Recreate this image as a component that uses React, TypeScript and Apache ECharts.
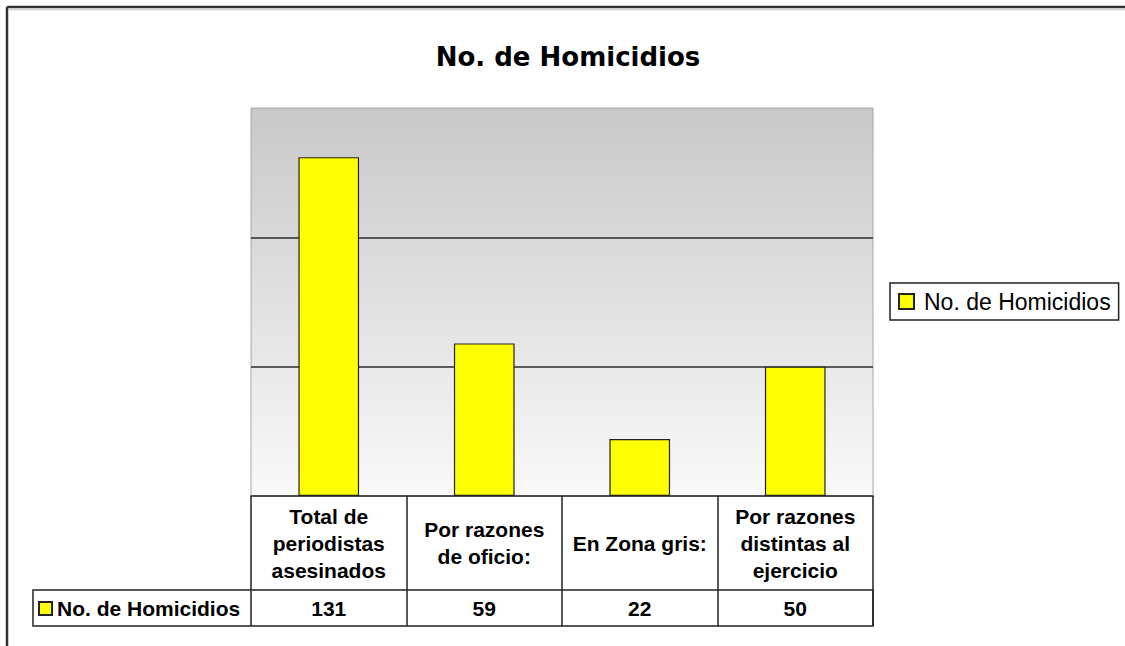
import React, { useEffect, useRef } from "react";
import * as echarts from "echarts";

const seriesName = "No. de Homicidios";
const categories = [
  "Total de\nperiodistas\nasesinados",
  "Por razones\nde oficio:",
  "En Zona gris:",
  "Por razones\ndistintas al\nejercicio",
];
const values = [131, 59, 22, 50];
const yMin = 0;
const yMax = 150;
const yInterval = 50;

export default function App() {
  const ref = useRef<HTMLDivElement>(null);
  useEffect(() => {
    document.body.style.margin = "0";
    const chart = echarts.init(ref.current!, null, { renderer: "svg" });
    const gridLeft = 251;
    const gridTop = 108;
    const gridW = 622;
    const gridH = 388;
    const gridBottom = gridTop + gridH;
    chart.setOption({
      animation: false,
      backgroundColor: "#ffffff",
      title: {
        text: "No. de Homicidios",
        left: 563,
        top: 39,
        textAlign: "center",
        textStyle: {
          fontFamily: "DejaVu Sans",
          fontWeight: "bold",
          fontSize: 26,
          color: "#000",
        },
      },
      legend: [
        {
          data: [seriesName],
          left: 36,
          top: 596,
          padding: 2,
          icon: "rect",
          itemWidth: 13,
          itemHeight: 13,
          selectedMode: false,
          textStyle: {
            fontFamily: "Liberation Sans",
            fontWeight: "bold",
            fontSize: 21,
            color: "#000",
          },
        },
        {
          data: [seriesName],
          left: 890,
          top: 283,
          padding: [7, 8, 7, 8],
          borderColor: "#222",
          borderWidth: 1.5,
          icon: "rect",
          itemWidth: 15,
          itemHeight: 15,
          selectedMode: false,
          textStyle: {
            fontFamily: "Liberation Sans",
            fontSize: 23,
            color: "#000",
            padding: [0, 0, 0, 5],
          },
        },
      ],
      grid: {
        left: gridLeft,
        top: gridTop,
        width: gridW,
        height: gridH,
        show: true,
        borderColor: "#a8a8a8",
        borderWidth: 1,
        backgroundColor: new echarts.graphic.LinearGradient(0, 0, 0, 1, [
          { offset: 0, color: "#c8c8c8" },
          { offset: 1, color: "#f9f9f9" },
        ]),
      },
      xAxis: [
        {
          type: "category",
          data: categories,
          position: "bottom",
          axisLine: { lineStyle: { color: "#222", width: 1.5 } },
          axisTick: { show: true, length: 130, lineStyle: { color: "#222", width: 1.5 } },
          axisLabel: {
            interval: 0,
            margin: 47,
            verticalAlign: "middle",
            fontFamily: "Liberation Sans",
            fontWeight: "bold",
            fontSize: 21,
            lineHeight: 27,
            color: "#000",
          },
        },
        {
          type: "category",
          data: categories,
          position: "bottom",
          offset: 94,
          axisLine: { show: false },
          axisTick: { show: false },
          axisLabel: {
            interval: 0,
            margin: 18,
            verticalAlign: "middle",
            formatter: (_v: string, idx: number) => String(values[idx]),
            fontFamily: "Liberation Sans",
            fontWeight: "bold",
            fontSize: 21,
            color: "#000",
          },
        },
      ],
      yAxis: {
        type: "value",
        min: yMin,
        max: yMax,
        interval: yInterval,
        axisLabel: { show: false },
        axisLine: { show: false },
        axisTick: { show: false },
        splitLine: {
          show: true,
          showMinLine: false,
          showMaxLine: false,
          lineStyle: { color: "#2a2a2a", width: 1.5 },
        },
      },
      series: [
        {
          name: seriesName,
          type: "bar",
          xAxisIndex: 0,
          data: values,
          barWidth: "39%",
          itemStyle: { color: "#ffff00", borderColor: "#222", borderWidth: 1.2 },
        },
      ],
      graphic: [
        {
          type: "rect",
          shape: { x: 33, y: gridBottom + 94, width: gridLeft + gridW - 33, height: 36 },
          style: { fill: "none", stroke: "#222", lineWidth: 1.5 },
          z: 10,
        },
        {
          type: "line",
          shape: { x1: 7, y1: 7, x2: 1125, y2: 7 },
          style: { stroke: "#333", lineWidth: 2.5 },
        },
        {
          type: "line",
          shape: { x1: 7, y1: 7, x2: 7, y2: 646 },
          style: { stroke: "#333", lineWidth: 2.5 },
        },
        {
          type: "line",
          shape: { x1: 9, y1: 9.5, x2: 1125, y2: 9.5 },
          style: { stroke: "#cfcfcf", lineWidth: 1.5 },
        },
      ],
    });
    return () => chart.dispose();
  }, []);
  return <div ref={ref} style={{ width: 1125, height: 646 }} />;
}
